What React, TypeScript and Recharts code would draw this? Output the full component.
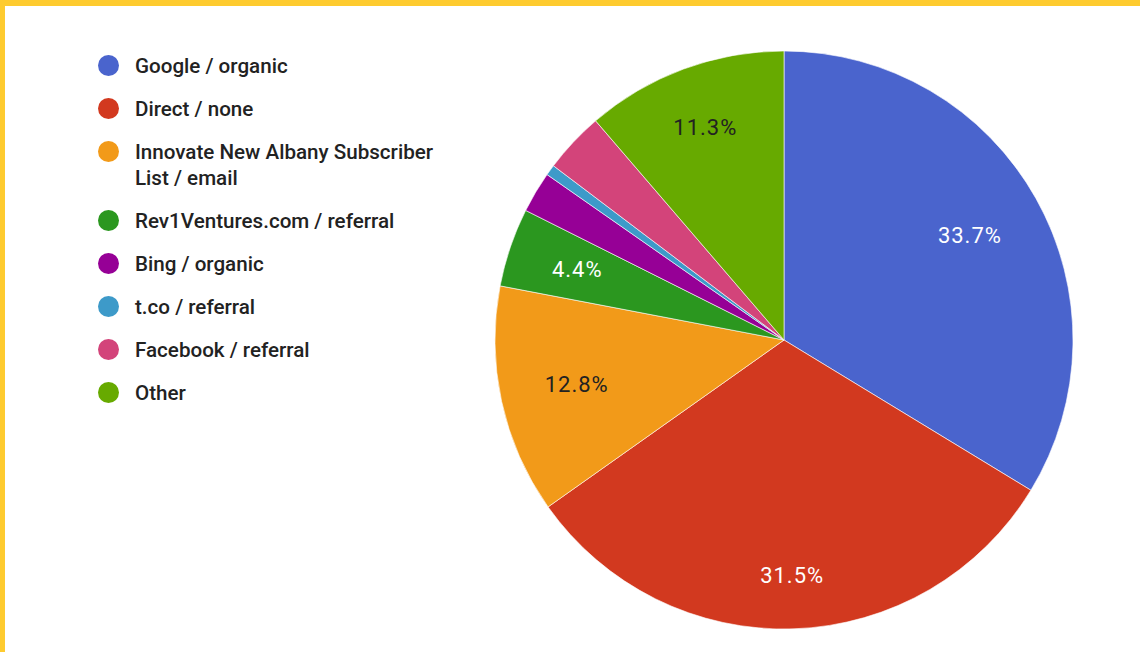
import React from 'react';
import { PieChart, Pie, Cell, Legend } from 'recharts';

const sources = [
  'Google / organic',
  'Direct / none',
  'Innovate New Albany Subscriber List / email',
  'Rev1Ventures.com / referral',
  'Bing / organic',
  't.co / referral',
  'Facebook / referral',
  'Other',
];
const shares = [33.7, 31.5, 12.8, 4.4, 2.3, 0.6, 3.4, 11.3];
const sliceColors = ['#4a64cd', '#d2391f', '#f29a19', '#2b971f', '#960096', '#3d9ac9', '#d3447a', '#67aa00'];
const labelColors = ['#ffffff', '#ffffff', '#222222', '#ffffff', '#ffffff', '#ffffff', '#ffffff', '#222222'];

const data = sources.map((name, i) => ({ name, value: shares[i] }));

const RAD = Math.PI / 180;

const renderLabel = (props: any) => {
  const { cx, cy, midAngle, outerRadius, index, value } = props;
  if (value < 4) return null;
  const text = `${value.toFixed(1)}%`;
  const halfW = (text.length * 12.8) / 2;
  const halfH = 8;
  const c = Math.cos(-midAngle * RAD);
  const s = Math.sin(-midAngle * RAD);
  const ext = halfW * Math.abs(c) + halfH * Math.abs(s);
  const r = outerRadius * 0.848 - ext;
  const x = cx + r * c;
  const y = cy + r * s;
  return (
    <text
      x={x}
      y={y}
      fill={labelColors[index]}
      textAnchor="middle"
      dominantBaseline="central"
      fontSize={22}
      fontFamily="Roboto, sans-serif"
      letterSpacing={1}
    >
      {text}
    </text>
  );
};

const renderLegend = () => (
  <div style={{ position: 'absolute', left: 98, top: 53, fontFamily: 'Roboto, sans-serif' }}>
    {sources.map((name, i) => (
      <div key={name} style={{ display: 'flex', alignItems: 'flex-start', marginBottom: 17 }}>
        <div
          style={{
            width: 21,
            height: 21,
            borderRadius: '50%',
            background: sliceColors[i],
            marginTop: 2,
            flex: '0 0 auto',
          }}
        />
        <div
          style={{
            marginLeft: 16,
            width: 312,
            fontSize: 20.6,
            fontWeight: 500,
            lineHeight: '26px',
            color: '#222222',
          }}
        >
          {name}
        </div>
      </div>
    ))}
  </div>
);

export default function App() {
  return (
    <div style={{ position: 'fixed', left: 0, top: 0, width: 1140, height: 652, background: '#ffffff', overflow: 'hidden' }}>
      <div style={{ position: 'absolute', left: 0, top: 0, width: 1140, height: 6, background: '#fecb2f', zIndex: 2 }} />
      <div style={{ position: 'absolute', left: 0, top: 0, width: 5, height: 652, background: '#fecb2f', zIndex: 2 }} />
      <PieChart width={1140} height={652} margin={{ top: 0, right: 0, bottom: 0, left: 0 }}>
        <Pie
          data={data}
          dataKey="value"
          nameKey="name"
          cx={784}
          cy={340}
          outerRadius={289}
          startAngle={90}
          endAngle={-270}
          stroke="#ffffff"
          strokeWidth={0.6}
          label={renderLabel}
          labelLine={false}
          isAnimationActive={false}
        >
          {data.map((d, i) => (
            <Cell key={d.name} fill={sliceColors[i]} />
          ))}
        </Pie>
        <Legend content={renderLegend} wrapperStyle={{ position: 'absolute', left: 0, top: 0, width: 0, height: 0 }} />
      </PieChart>
    </div>
  );
}
